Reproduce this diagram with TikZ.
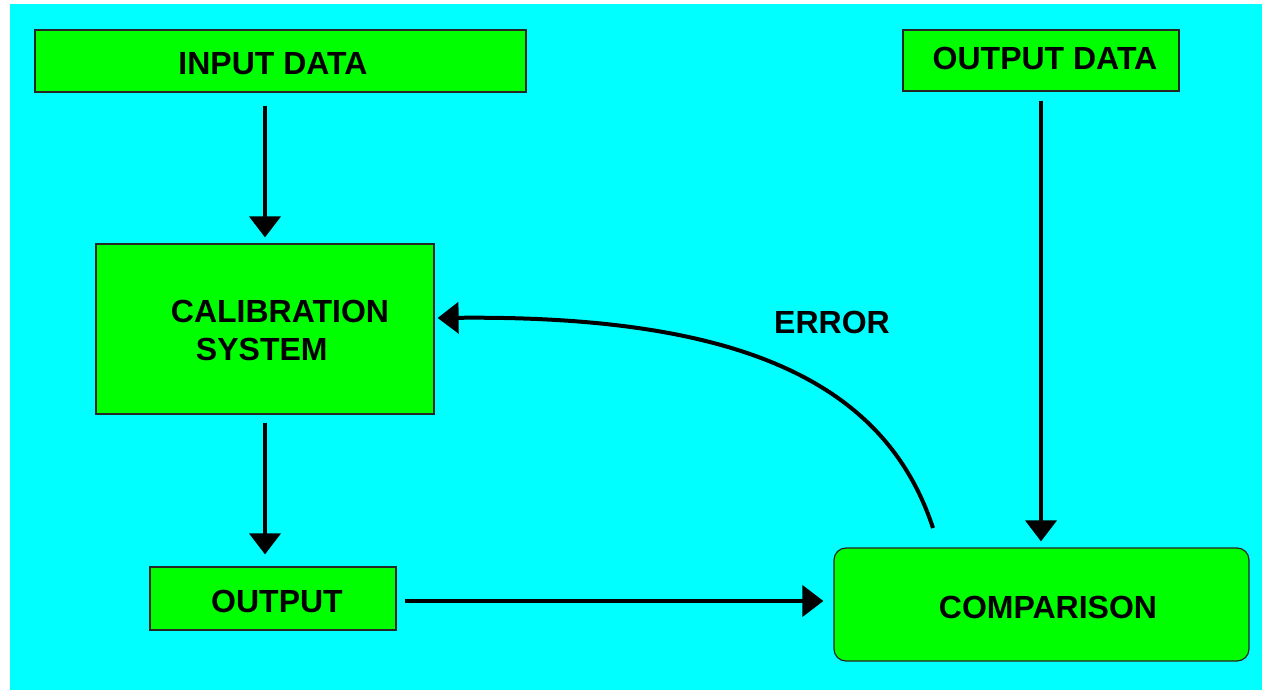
\documentclass[tikz,border=0pt]{standalone}
\usepackage{fontspec}
\setmainfont{Liberation Sans}
\usetikzlibrary{arrows.meta}
\definecolor{bgcyan}{HTML}{00FFFF}
\definecolor{boxgreen}{HTML}{00FF00}
\tikzstyle{boxg}=[rectangle,draw=black!85,line width=1.2pt,fill=boxgreen,inner sep=0pt,font=\bfseries\fontsize{32}{38}\selectfont]
\tikzstyle{lbl}=[inner sep=0pt,font=\bfseries\fontsize{32}{38}\selectfont]
\tikzstyle{arrowk}=[line width=4pt,-{Triangle[length=21pt,width=31pt]}]

\begin{document}
\begin{tikzpicture}[x=1pt,y=-1pt]
    \useasboundingbox (0,0) rectangle (1262,690);
    \fill[bgcyan] (10,4) rectangle (1262,690);

    \node[boxg,minimum width=491pt,minimum height=62pt] (indata) at (280.5,61) {};
    \node[lbl] (indatatxt) at (273,64) {INPUT DATA};
    \node[boxg,minimum width=276pt,minimum height=61pt] (outdata) at (1041,60.5) {};
    \node[lbl] (outdatatxt) at (1045,58) {OUTPUT DATA};
    \node[boxg,minimum width=338pt,minimum height=170pt] (calib) at (265,329) {};
    \node[lbl,align=left] (calibtxt) at (280,330) {CALIBRATION\\\hspace*{25pt}SYSTEM};
    \node[boxg,minimum width=246pt,minimum height=63pt] (output) at (273,598.5) {};
    \node[lbl] (outputtxt) at (277,601) {OUTPUT};
    \node[boxg,rounded corners=12pt,minimum width=415pt,minimum height=113pt] (comp) at (1041.5,604.5) {};
    \node[lbl] (comptxt) at (1048,607) {COMPARISON};
    \node[lbl] (errlbl) at (832,322) {ERROR};
    \coordinate (errstart) at (933,528);

    \draw[arrowk,shorten <=13pt,shorten >=6pt] (calib |- indata.south) -- (calib.north);
    \draw[arrowk,shorten <=8pt,shorten >=12pt] (calib.south) -- (calib.south |- output.north);
    \draw[arrowk,shorten <=9pt,shorten >=6pt] (outdata.south) -- (outdata.south |- comp.north);
    \draw[arrowk,shorten <=8pt,shorten >=10pt] ([yshift=-2.5pt]output.east) -- ([yshift=-2.5pt]output.east -| comp.west);
    \draw[arrowk] (errstart) .. controls (885,382) and (740,315) .. ([xshift=3pt,yshift=11pt]calib.east);
\end{tikzpicture}
\end{document}
